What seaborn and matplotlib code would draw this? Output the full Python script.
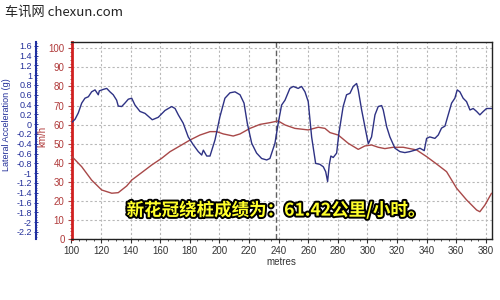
import matplotlib
matplotlib.use("Agg")
import numpy as np
import pandas as pd
import seaborn as sns
import matplotlib.pyplot as plt
from matplotlib.ticker import MultipleLocator, FuncFormatter
import matplotlib.patheffects as pe

# ---- data ----
speed_m = [100.0, 106.9, 113.6, 120.4, 127.2, 131.6, 137.3, 140.7, 147.4, 154.2, 160.9, 166.6,
           173.3, 180.1, 186.8, 193.6, 198.1, 202.6, 209.3, 213.9, 220.6, 227.4, 234.1, 239.7,
           244.3, 251.0, 260.0, 266.8, 271.3, 274.7, 280.3, 287.0, 293.8, 298.3, 302.8, 307.3,
           311.8, 317.4, 324.2, 333.2, 340.0, 346.8, 353.5, 360.3, 367.0, 373.8, 376.0, 379.4, 383.9]
speed_kmh = [43.5, 37.9, 30.9, 25.7, 24.0, 24.3, 27.8, 30.9, 34.8, 38.8, 42.3, 45.8,
             48.8, 51.9, 54.5, 56.3, 56.3, 55.1, 54.0, 55.1, 58.0, 60.1, 61.0, 61.9,
             59.8, 58.0, 57.2, 58.6, 58.0, 55.8, 54.5, 50.2, 47.0, 48.8, 49.3, 48.1,
             47.4, 48.1, 48.1, 46.7, 43.2, 39.3, 35.3, 26.6, 20.5, 15.2, 14.3, 17.8, 24.0]

lat_m = [100.0, 102.4, 104.6, 106.9, 109.1, 111.4, 113.6, 115.9, 118.1, 118.8, 121.5, 123.8,
         126.0, 128.2, 130.5, 131.6, 133.9, 136.1, 138.4, 140.7, 142.9, 146.3, 149.7, 154.6,
         158.6, 163.2, 167.7, 170.0, 172.2, 175.5, 178.9, 182.3, 185.7, 188.0, 189.1, 191.4,
         193.6, 197.0, 200.3, 203.7, 207.1, 210.5, 213.9, 216.6, 218.8, 221.8, 225.1, 228.5,
         231.9, 234.1, 237.5, 239.7, 242.0, 244.3, 247.6, 249.9, 253.2, 255.5, 257.8, 260.0,
         262.3, 265.0, 267.9, 270.2, 271.8, 273.1, 274.2, 275.3, 276.9, 279.2, 280.7, 283.6,
         285.9, 288.2, 290.4, 292.7, 293.8, 296.1, 298.3, 300.6, 302.8, 305.1, 307.3, 309.6,
         310.7, 313.0, 315.2, 318.6, 322.0, 325.3, 328.7, 332.1, 335.5, 338.4, 340.0, 342.2,
         345.6, 347.9, 350.1, 352.4, 354.6, 356.9, 359.1, 360.7, 362.5, 364.7, 367.0, 369.3,
         371.5, 373.8, 376.0, 378.3, 380.5, 383.9]
lat_g = [0.03, 0.10, 0.23, 0.43, 0.53, 0.56, 0.66, 0.70, 0.60, 0.68, 0.71, 0.73,
         0.66, 0.60, 0.49, 0.37, 0.36, 0.43, 0.51, 0.53, 0.39, 0.26, 0.22, 0.09,
         0.14, 0.28, 0.36, 0.32, 0.19, 0.02, -0.26, -0.42, -0.56, -0.63, -0.53, -0.65,
         -0.65, -0.32, 0.15, 0.53, 0.64, 0.66, 0.60, 0.43, 0.02, -0.39, -0.59, -0.70,
         -0.73, -0.70, -0.39, 0.02, 0.39, 0.49, 0.73, 0.77, 0.73, 0.77, 0.66, 0.46,
         -0.26, -0.80, -0.82, -0.87, -0.97, -1.17, -0.83, -0.65, -0.68, -0.59, -0.19, 0.36,
         0.60, 0.63, 0.77, 0.83, 0.70, 0.29, -0.05, -0.40, -0.26, 0.19, 0.36, 0.38,
         0.29, -0.05, -0.26, -0.49, -0.56, -0.58, -0.56, -0.53, -0.49, -0.54, -0.29, -0.26,
         -0.29, -0.22, -0.08, -0.04, 0.19, 0.43, 0.53, 0.70, 0.66, 0.53, 0.46, 0.29,
         0.32, 0.26, 0.19, 0.26, 0.32, 0.32]

marker_m = 238
g_ticks = [v / 10 for v in range(-22, 17, 2)]
title_text = "新花冠绕桩成绩为：61.42公里/小时。"
watermark = "车讯网 chexun.com"

# ---- style ----
sns.set_theme(style="white")
plt.rcParams["font.family"] = ["Liberation Sans", "Noto Sans CJK SC"]

RED = "#a84848"
BLUE = "#2e3284"
RED_TXT = "#b03a3a"
BLUE_TXT = "#24309a"

fig = plt.figure(figsize=(5, 3), dpi=100)
fig.patch.set_facecolor("white")
L, R, B, T = 71.5 / 500, 491.7 / 500, 61 / 300, 258 / 300
ax = fig.add_axes([L, B, R - L, T - B])
ax.set_facecolor("white")

speed_df = pd.DataFrame({"m": speed_m, "kmh": speed_kmh})
lat_df = pd.DataFrame({"m": lat_m, "g": lat_g})

sns.lineplot(data=speed_df, x="m", y="kmh", ax=ax, color=RED, lw=1.0, zorder=3)
ax.set_xlim(100, 384)
ax.set_ylim(0, 103.3)
ax.xaxis.set_major_locator(MultipleLocator(20))
ax.xaxis.set_minor_locator(MultipleLocator(5))
ax.yaxis.set_major_locator(MultipleLocator(10))
ax.yaxis.set_minor_locator(MultipleLocator(2))
ax.grid(True, which="major", ls=(0, (2, 2)), color="#b8b8b8", lw=0.8)
ax.axvline(marker_m, color="#606060", ls=(0, (4, 2)), lw=1.0, zorder=2)

ax.tick_params(axis="x", which="major", length=3, width=0.8, labelsize=7,
               colors="#333333", pad=2, bottom=True)
ax.tick_params(axis="x", which="minor", length=1.5, width=0.6, colors="#333333", bottom=True)
ax.tick_params(axis="y", which="major", length=3, width=0.8, labelsize=7,
               colors=RED, labelcolor=RED_TXT, pad=2, left=True)
ax.tick_params(axis="y", which="minor", length=1.5, width=0.6, colors=RED, left=True)

for s in ["top", "right", "bottom"]:
    ax.spines[s].set_color("#222222")
    ax.spines[s].set_linewidth(1.0)
ax.spines["left"].set_color("#d02020")
ax.spines["left"].set_linewidth(2.0)

ax.set_xlabel("metres", fontsize=7, color="#333333", labelpad=1)
ax.set_ylabel("km/h", fontsize=7, color=RED_TXT)
ax.yaxis.set_label_coords((47 - 71.5) / 420.2, 0.52)

# secondary (lateral acceleration) axis
ax2 = ax.twinx()
sns.lineplot(data=lat_df, x="m", y="g", ax=ax2, color=BLUE, lw=1.0, zorder=4)
ax2.set_ylim(-2.343, 1.677)
ax2.set_xlim(100, 384)
ax2.yaxis.tick_left()
ax2.yaxis.set_label_position("left")
ax2.spines["left"].set_position(("axes", (36 - 71.5) / 420.2))
ax2.spines["left"].set_color("#2030a0")
ax2.spines["left"].set_linewidth(1.5)
for s in ["top", "right", "bottom"]:
    ax2.spines[s].set_visible(False)
ax2.set_yticks(g_ticks)
ax2.yaxis.set_minor_locator(MultipleLocator(0.05))
ax2.yaxis.set_major_formatter(FuncFormatter(lambda v, p: "0" if abs(v) < 1e-9 else "%g" % round(v, 2)))
ax2.tick_params(axis="y", which="major", length=3, width=0.7, labelsize=6.5,
                colors="#2030a0", labelcolor=BLUE_TXT, pad=1.5, direction="inout")
ax2.tick_params(axis="y", which="minor", length=1.6, width=0.5, colors="#2030a0", direction="inout")
ax2.set_ylabel("Lateral Acceleration (g)", fontsize=6.5, color=BLUE_TXT)
ax2.yaxis.set_label_coords((11 - 71.5) / 420.2, 0.58)
ax2.set_xlabel("")

# overlay texts
fig.text(276 / 500, 1 - 210.5 / 300, title_text, ha="center", va="center",
         fontsize=12.6, fontweight="bold", color="#ffff2a",
         family=["Noto Sans CJK SC", "DejaVu Sans"],
         path_effects=[pe.withStroke(linewidth=2.8, foreground="black")], zorder=10)
fig.text(5 / 500, 1 - 12.5 / 300, watermark, ha="left", va="center",
         fontsize=9.5, color="#222222", family=["Noto Sans CJK SC", "DejaVu Sans"])

fig.savefig("out.png", dpi=100, facecolor="white")
